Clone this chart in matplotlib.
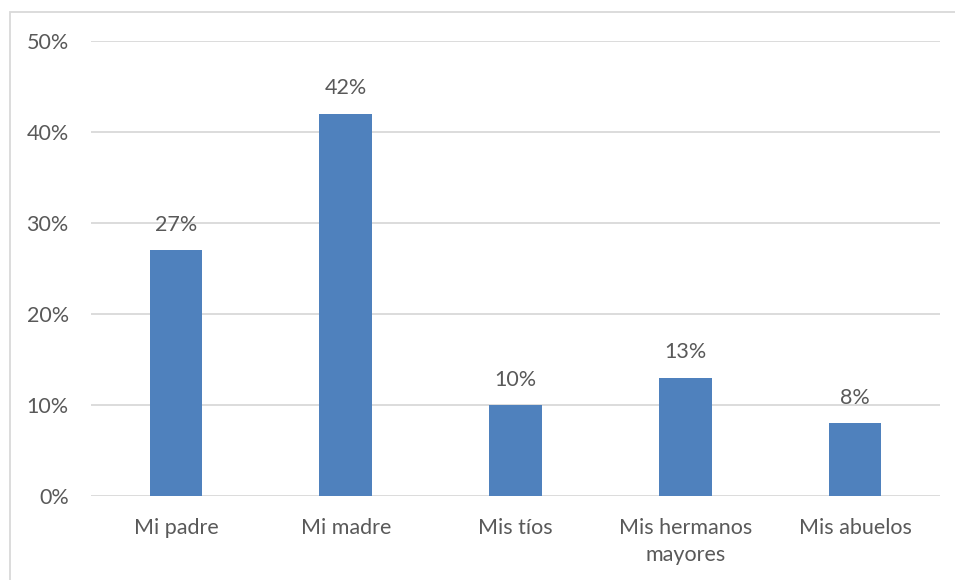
import matplotlib.pyplot as plt
from matplotlib.patches import Rectangle

categorias = ['Mi padre', 'Mi madre', 'Mis tíos', 'Mis hermanos\nmayores', 'Mis abuelos']
valores = [27, 42, 10, 13, 8]
ticks_y = [0, 10, 20, 30, 40, 50]

plt.rcParams['font.family'] = ['Lato', 'DejaVu Sans']
gris = '#595959'

fig = plt.figure(figsize=(9.55, 5.8), dpi=100)
ax = fig.add_axes([91 / 955, 84 / 580, 849 / 955, 455 / 580])

x = range(len(categorias))
ax.bar(x, valores, width=0.31, color='#4f81bd', zorder=3)
for i, v in zip(x, valores):
    ax.text(i, v + 1.7, f'{v}%', ha='center', va='bottom', fontsize=15.5, color=gris)

ax.set_ylim(0, 50)
ax.set_xlim(-0.5, len(categorias) - 0.5)
ax.set_yticks(ticks_y)
ax.set_yticklabels([f'{t}%' for t in ticks_y])
ax.set_xticks(list(x))
ax.set_xticklabels(categorias, linespacing=1.45)
ax.tick_params(axis='both', length=0, labelsize=15.5, labelcolor=gris)
ax.tick_params(axis='y', pad=16)
ax.tick_params(axis='x', pad=16)
ax.yaxis.grid(True, color='#d9d9d9', linewidth=1.3, zorder=0)
for s in ax.spines.values():
    s.set_visible(False)

# borde del gráfico
fig.patches.append(Rectangle((10 / 955, -0.1), 1.2, (580 - 12) / 580 + 0.1,
                             transform=fig.transFigure, fill=False,
                             edgecolor='#d9d9d9', linewidth=1.3))

fig.savefig('out.png', dpi=100)
